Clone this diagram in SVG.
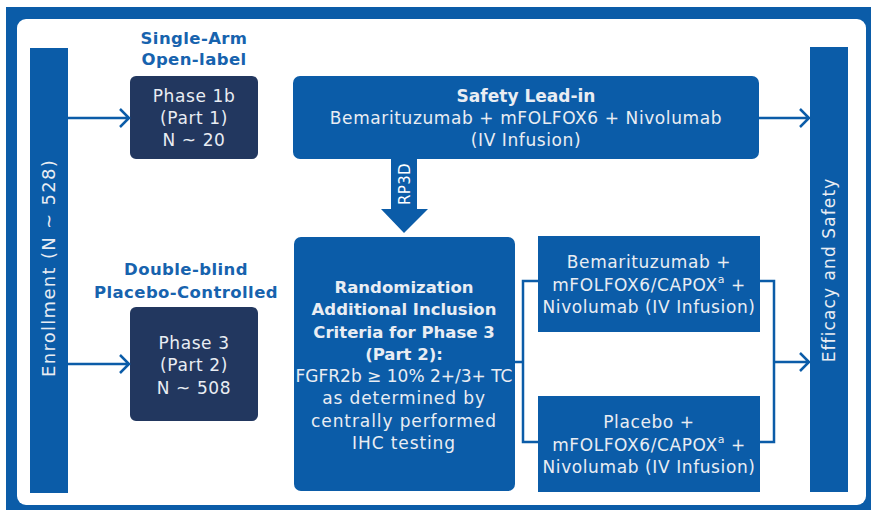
<svg xmlns="http://www.w3.org/2000/svg" width="871" height="510" viewBox="0 0 871 510">
<style>
.t{font-family:"DejaVu Sans","Liberation Sans",sans-serif;fill:#e9edf3;font-size:17px;text-anchor:middle;letter-spacing:0.6px}
.b{font-weight:bold;letter-spacing:0}
.lbl{font-family:"DejaVu Sans","Liberation Sans",sans-serif;fill:#1763ae;font-size:16.5px;font-weight:bold;text-anchor:middle;letter-spacing:0.4px}
.blue{fill:#0b5ca8}
.navy{fill:#22375f}
.ln{fill:none;stroke:#0b5ca8;stroke-width:2.5}
</style>
<rect x="6" y="7" width="870" height="510" fill="#0b5ca8"/>
<rect x="17" y="19" width="849" height="486" rx="9" fill="#ffffff"/>

<g id="enrollment">
<rect x="30" y="48" width="38" height="445" class="blue"/>
<text class="t" style="font-size:18px;letter-spacing:1.3px" transform="translate(55,268) rotate(-90)">Enrollment (N ~ 528)</text>
</g>
<g id="efficacy">
<rect x="810" y="47" width="38" height="445" class="blue"/>
<text class="t" style="font-size:17px;letter-spacing:1.1px" transform="translate(835,270) rotate(-90)">Efficacy and Safety</text>
</g>

<g id="label-single">
<text class="lbl" x="194" y="44">Single-Arm</text>
<text class="lbl" x="194" y="65">Open-label</text>
</g>
<g id="label-double">
<text class="lbl" x="186" y="275">Double-blind</text>
<text class="lbl" x="186" y="298">Placebo-Controlled</text>
</g>

<g id="phase1b">
<rect x="130" y="76" width="128" height="83" rx="6" class="navy"/>
<text class="t" x="194" y="102">Phase 1b</text>
<text class="t" x="194" y="124">(Part 1)</text>
<text class="t" x="194" y="146">N ~ 20</text>
</g>
<g id="phase3">
<rect x="130" y="307" width="128" height="114" rx="6" class="navy"/>
<text class="t" x="194" y="349">Phase 3</text>
<text class="t" x="194" y="371">(Part 2)</text>
<text class="t" x="194" y="394">N ~ 508</text>
</g>

<g id="safety">
<rect x="293" y="76" width="466" height="83" rx="7" class="blue"/>
<text class="t b" x="526" y="102">Safety Lead-in</text>
<text class="t" x="526" y="124">Bemarituzumab + mFOLFOX6 + Nivolumab</text>
<text class="t" x="526" y="146">(IV Infusion)</text>
</g>

<g id="rp3d">
<polygon points="391,159 417,159 417,209 428,209 404,233 381,209 391,209" class="blue"/>
<text class="t" style="font-size:15px;fill:#ffffff;letter-spacing:0.3px" transform="translate(409.5,184) rotate(-90)">RP3D</text>
</g>

<g id="randomization">
<rect x="294" y="237" width="221" height="254" rx="7" class="blue"/>
<text class="t b" style="font-size:16.5px" x="404" y="293">Randomization</text>
<text class="t b" style="font-size:16.5px" x="404" y="315">Additional Inclusion</text>
<text class="t b" style="font-size:16.5px" x="404" y="338">Criteria for Phase 3</text>
<text class="t b" style="font-size:16.5px" x="404" y="360">(Part 2):</text>
<text class="t" style="letter-spacing:0" x="404" y="382">FGFR2b ≥ 10% 2+/3+ TC</text>
<text class="t" style="letter-spacing:0.9px" x="404" y="404">as determined by</text>
<text class="t" style="letter-spacing:0.9px" x="404" y="427">centrally performed</text>
<text class="t" style="letter-spacing:0.9px" x="404" y="449">IHC testing</text>
</g>

<g id="arm-bema">
<rect x="538" y="236" width="222" height="96" class="blue"/>
<text class="t" x="649" y="268">Bemarituzumab +</text>
<text class="t" x="649" y="291">mFOLFOX6/CAPOX<tspan dy="-8" font-size="11">a</tspan><tspan dy="8"> +</tspan></text>
<text class="t" x="649" y="313">Nivolumab (IV Infusion)</text>
</g>
<g id="arm-placebo">
<rect x="538" y="396" width="222" height="96" class="blue"/>
<text class="t" x="649" y="428">Placebo +</text>
<text class="t" x="649" y="451">mFOLFOX6/CAPOX<tspan dy="-8" font-size="11">a</tspan><tspan dy="8"> +</tspan></text>
<text class="t" x="649" y="473">Nivolumab (IV Infusion)</text>
</g>

<g id="connectors">
<path class="ln" d="M68,118 H129 M120,109 L129,118 L120,127"/>
<path class="ln" d="M68,364 H129 M120,355 L129,364 L120,373"/>
<path class="ln" d="M759,118 H809 M800,109 L809,118 L800,127"/>
<path class="ln" d="M515,362 H523 M539,281 H523 V442 H539"/>
<path class="ln" d="M760,281 H774 V442 H760 M774,362 H809 M800,353 L809,362 L800,371"/>
</g>
</svg>
